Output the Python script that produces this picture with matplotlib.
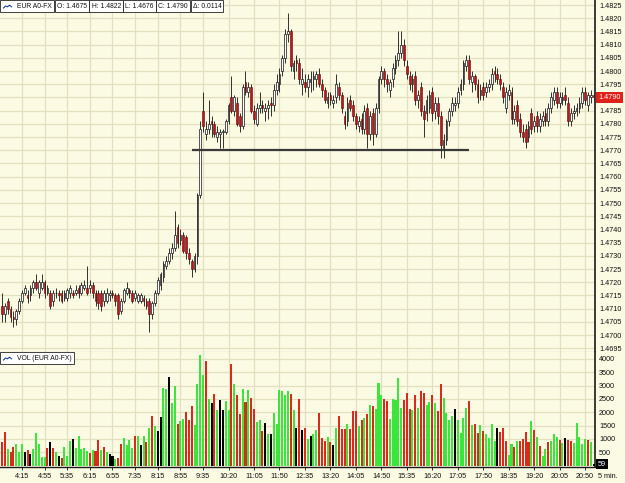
import matplotlib
matplotlib.use('Agg')
import matplotlib.pyplot as plt
from matplotlib.lines import Line2D
import numpy as np

plt.rcParams['font.family'] = ['Liberation Sans', 'DejaVu Sans']

# ---------------- data ----------------
symbol = 'EUR A0-FX'
start_time = '3:40'          # time of first 5-minute bar
bar_minutes = 5
price_base = 1.4             # prices below are in pips above 1.4000
opens = [711, 708, 713, 710, 707, 706, 709, 713, 716, 715, 715, 718, 720, 716, 718, 720, 716, 716, 713, 716,
         716, 716, 714, 714, 716, 716, 716, 718, 716, 718, 718, 718, 719, 716, 716, 716, 713, 713, 715, 716,
         715, 715, 709, 713, 716, 717, 716, 714, 713, 713, 714, 713, 713, 708, 712, 716, 719, 722, 726, 728,
         731, 733, 741, 736, 738, 737, 731, 728, 725, 730, 753, 785, 776, 778, 781, 780, 775, 776, 777, 777,
         781, 790, 785, 788, 783, 779, 796, 792, 794, 785, 780, 786, 787, 785, 786, 788, 787, 793, 795, 800,
         805, 814, 815, 800, 804, 803, 795, 796, 794, 796, 797, 797, 799, 795, 793, 788, 791, 788, 790, 794,
         791, 783, 781, 789, 787, 783, 779, 782, 778, 786, 776, 784, 776, 786, 797, 800, 797, 793, 797, 801,
         804, 807, 810, 802, 798, 795, 798, 789, 794, 785, 784, 786, 792, 785, 788, 783, 771, 774, 781, 785,
         787, 788, 793, 795, 802, 804, 796, 798, 795, 791, 794, 792, 794, 795, 800, 799, 797, 794, 786, 791,
         792, 782, 787, 782, 777, 778, 775, 784, 779, 783, 779, 781, 784, 781, 786, 789, 792, 788, 789, 791,
         788, 781, 784, 785, 786, 788, 792, 787, 790, 791]
highs = [716, 712, 714, 711, 709, 710, 714, 717, 719, 717, 719, 721, 723, 721, 723, 721, 719, 717, 717, 718,
         717, 717, 717, 718, 719, 717, 719, 719, 720, 721, 726, 721, 720, 717, 717, 717, 717, 718, 717, 717,
         716, 716, 714, 718, 720, 718, 717, 717, 716, 716, 715, 714, 714, 713, 717, 722, 724, 728, 730, 733,
         735, 747, 742, 740, 739, 738, 733, 729, 731, 754, 781, 792, 781, 789, 783, 781, 779, 778, 778, 782,
         788, 798, 791, 790, 784, 795, 800, 796, 795, 787, 788, 792, 789, 788, 789, 790, 795, 799, 801, 806,
         816, 822, 816, 804, 806, 805, 801, 799, 799, 800, 800, 800, 801, 797, 794, 792, 792, 791, 799, 796,
         792, 785, 790, 791, 789, 784, 783, 784, 787, 788, 785, 786, 788, 798, 802, 801, 799, 797, 803, 806,
         815, 815, 812, 804, 800, 799, 800, 793, 796, 787, 791, 793, 794, 790, 790, 785, 776, 782, 786, 790,
         790, 794, 797, 804, 806, 806, 800, 799, 797, 795, 796, 796, 797, 801, 802, 801, 799, 796, 794, 795,
         794, 787, 789, 784, 780, 780, 781, 786, 783, 785, 784, 785, 786, 788, 792, 794, 794, 792, 792, 794,
         790, 786, 787, 788, 790, 794, 794, 792, 793, 792]
lows = [705, 705, 708, 705, 703, 704, 708, 712, 715, 712, 713, 716, 717, 714, 717, 714, 715, 710, 711, 714,
        713, 712, 713, 713, 714, 714, 715, 714, 715, 717, 715, 716, 714, 711, 710, 709, 711, 712, 713, 714,
        711, 706, 708, 712, 715, 714, 712, 713, 712, 712, 711, 710, 701, 706, 711, 715, 717, 720, 725, 727,
        729, 732, 733, 734, 731, 729, 727, 722, 724, 727, 752, 777, 774, 776, 775, 775, 773, 771, 771, 776,
        780, 784, 783, 779, 777, 778, 791, 790, 784, 780, 779, 784, 784, 781, 782, 783, 785, 791, 792, 798,
        803, 811, 800, 797, 800, 795, 791, 792, 790, 792, 793, 794, 794, 790, 788, 786, 787, 786, 788, 789,
        784, 778, 779, 785, 781, 778, 777, 776, 776, 771, 774, 772, 775, 784, 795, 794, 792, 790, 794, 799,
        802, 805, 802, 797, 793, 792, 787, 786, 783, 775, 781, 784, 781, 782, 780, 767, 767, 772, 779, 783,
        785, 786, 791, 793, 800, 795, 792, 793, 788, 789, 789, 790, 792, 793, 796, 795, 793, 788, 784, 789,
        780, 780, 779, 775, 773, 771, 773, 776, 777, 777, 777, 779, 779, 779, 784, 787, 786, 786, 787, 787,
        779, 779, 782, 783, 784, 786, 787, 785, 788, 789]
closes = [708, 711, 710, 707, 706, 709, 713, 716, 718, 714, 718, 720, 718, 720, 720, 716, 718, 711, 716, 716,
          715, 713, 716, 717, 718, 715, 717, 716, 719, 719, 716, 719, 716, 713, 712, 711, 716, 716, 716, 715,
          713, 708, 713, 717, 718, 716, 713, 716, 715, 715, 713, 711, 708, 712, 716, 721, 723, 727, 728, 731,
          733, 738, 735, 738, 732, 731, 729, 725, 730, 753, 778, 779, 778, 780, 780, 776, 777, 777, 777, 781,
          787, 785, 790, 780, 779, 794, 792, 794, 785, 782, 786, 787, 786, 786, 787, 787, 793, 796, 799, 805,
          814, 815, 802, 803, 803, 797, 797, 794, 797, 797, 798, 799, 795, 793, 789, 790, 789, 789, 795, 791,
          786, 780, 788, 786, 783, 780, 781, 778, 785, 776, 783, 776, 786, 797, 800, 797, 795, 796, 801, 804,
          807, 810, 804, 799, 795, 797, 789, 791, 785, 782, 789, 791, 784, 788, 783, 772, 774, 781, 785, 788,
          788, 792, 795, 803, 804, 797, 798, 795, 790, 793, 791, 794, 795, 799, 799, 797, 795, 790, 792, 793,
          782, 785, 781, 777, 775, 773, 779, 778, 781, 779, 782, 783, 781, 786, 790, 792, 788, 790, 790, 789,
          781, 784, 785, 786, 788, 792, 789, 791, 791, 790]
volumes = [880, 1260, 630, 500, 710, 800, 500, 800, 525, 590, 440, 630, 1220, 800, 340, 340, 660, 880, 680, 525,
           370, 280, 710, 370, 940, 1000, 680, 1130, 630, 660, 565, 460, 590, 565, 970, 590, 710, 500, 440, 370,
           245, 280, 800, 1030, 780, 970, 680, 1100, 1130, 780, 1130, 880, 1420, 1880, 1470, 1290, 1820, 2930, 2870, 3330,
           2360, 3000, 1570, 1670, 1760, 2010, 1720, 2220, 1540, 3080, 4150, 3390, 3930, 2510, 2360, 2700, 2100, 2450, 2070, 2410,
           2070, 3830, 3080, 2640, 1920, 2890, 2390, 2830, 2540, 2140, 1640, 1700, 1290, 1590, 1190, 1190, 1970, 1570, 2830, 2790,
           2660, 2790, 2680, 2100, 1420, 2510, 1350, 1420, 1000, 1130, 1190, 1350, 1970, 1040, 940, 1060, 880, 790, 1420, 1860,
           1380, 1380, 1550, 1380, 2040, 2060, 1480, 1730, 1800, 1920, 2290, 2230, 2140, 3100, 2640, 2490, 2430, 1760, 2490, 2450,
           3300, 2160, 2450, 2740, 2140, 2070, 2640, 2170, 2790, 2740, 2290, 2390, 2640, 2360, 2040, 3050, 2550, 1970, 1730, 1850,
           2140, 1710, 1210, 1800, 2170, 2430, 1540, 1570, 1210, 1510, 1290, 1190, 1040, 1570, 940, 1420, 1260, 1420, 940, 410,
           820, 690, 940, 940, 1000, 1280, 880, 1660, 1350, 1090, 720, 380, 630, 880, 940, 1190, 1090, 970, 840, 1040,
           970, 920, 840, 1590, 1090, 810, 1000, 970, 880, 59]
# volume direction: g = up, r = down, k = unchanged
vol_dir = ("rrgrrgggkrkgggggrkrgkrgggkgggggrgrrgrgkkgrrggggrgkgrgrgkkggkggrggrrrggg"
           "grgkrgkkggrgrrgrgrrggrkgkggggggrgkrkrgkggrrrgrkgrrrgrrrgrgrgrgggrrggggg"
           "rrrgrgrrggrgrrggggkggggrgrrgrggggkrrrggrgrrrrgrgrggrgggrgkrrgggggrgkr")
tick_labels = ['4:15', '4:55', '5:35', '6:15', '6:55', '7:35', '8:15', '8:55', '9:35', '10:20', '11:05',
               '11:50', '12:35', '13:20', '14:05', '14:50', '15:35', '16:20', '17:05', '17:50', '18:35',
               '19:20', '20:05', '20:50']
price_ticks = [1.4695, 1.4700, 1.4705, 1.4710, 1.4715, 1.4720, 1.4725, 1.4730, 1.4735, 1.4740, 1.4745,
               1.4750, 1.4755, 1.4760, 1.4765, 1.4770, 1.4775, 1.4780, 1.4785, 1.4790, 1.4795, 1.4800,
               1.4805, 1.4810, 1.4815, 1.4820, 1.4825]
volume_ticks = [500, 1000, 1500, 2000, 2500, 3000, 3500, 4000]
support_level = 1.4770
support_from, support_to = '9:15', '17:25'
header_fields = [('O', '1.4675'), ('H', '1.4822'), ('L', '1.4676'), ('C', '1.4790'), ('Δ', '0.0114')]
interval_label = '5 min.'

# ---------------- helpers ----------------
def to_min(t):
    h, m = t.split(':')
    return int(h) * 60 + int(m)

def idx_of(t):
    return (to_min(t) - to_min(start_time)) / bar_minutes

O = price_base + np.array(opens) / 10000.0
H = price_base + np.array(highs) / 10000.0
L = price_base + np.array(lows) / 10000.0
C = price_base + np.array(closes) / 10000.0
V = np.array(volumes)
n = len(C)
x = np.arange(n)

BG = '#FBFAE3'
GRID = '#E3DFBF'
UP_FACE = 'white'
DOWN_FACE = '#C0141A'
VCOL = {'g': '#3BE53B', 'r': '#DA2A1E', 'k': '#000000'}
FS = 5.2

W, Hpx = 625, 483
fig = plt.figure(figsize=(W / 100, Hpx / 100), dpi=100, facecolor=BG)

ax_w = 595 / W
ax = fig.add_axes([0, 1 - 352 / Hpx, ax_w, 352 / Hpx], facecolor=BG)
axv = fig.add_axes([0, 1 - 467 / Hpx, ax_w, 115 / Hpx], facecolor=BG, sharex=ax)

PY0, PY1 = 1.46936, 1.48269
VY0, VY1 = -50, 4262
xlim = (-0.75, n - 0.5)
tick_pos = [idx_of(t) for t in tick_labels]

# ---- price panel ----
ax.set_xlim(*xlim)
ax.set_ylim(PY0, PY1)
ax.set_yticks(price_ticks)
ax.set_yticklabels([f'{p:.4f}' for p in price_ticks])
ax.set_xticks(tick_pos)
ax.grid(True, color=GRID, lw=0.9, zorder=0)
ax.set_axisbelow(True)

ax.vlines(x, L, H, color='#111111', lw=0.6, zorder=2)
up = C >= O
body_bot = np.minimum(O, C)
body_h = np.maximum(np.abs(C - O), 0.000012)
ax.bar(x[up], body_h[up], bottom=body_bot[up], width=0.62, color=UP_FACE,
       edgecolor='#111111', lw=0.5, zorder=3)
ax.bar(x[~up], body_h[~up], bottom=body_bot[~up], width=0.62, color=DOWN_FACE,
       edgecolor='#5a0a0a', lw=0.4, zorder=3)

ax.hlines(support_level, idx_of(support_from), idx_of(support_to), color='#3a3a3a', lw=1.6, zorder=4)

# ---- volume panel ----
axv.set_ylim(VY0, VY1)
axv.bar(x, V, width=0.72, color=[VCOL[c] for c in vol_dir], lw=0, zorder=3)
axv.set_yticks(volume_ticks)
axv.set_yticklabels([str(v) for v in volume_ticks])
axv.set_xticks(tick_pos)
axv.set_xticklabels(tick_labels)
axv.grid(True, color=GRID, lw=0.9, zorder=0)
axv.set_axisbelow(True)

for a in (ax, axv):
    a.yaxis.tick_right()
    a.tick_params(axis='y', length=0, pad=3, labelsize=FS, colors='#111111')
    a.tick_params(axis='x', length=2, width=0.6, pad=2, labelsize=FS, colors='#111111')
    for s in ('left', 'top'):
        a.spines[s].set_visible(False)
    a.spines['right'].set_color('#2a2a2a')
    a.spines['right'].set_linewidth(1.3)
ax.tick_params(axis='x', labelbottom=False, length=0)
ax.spines['bottom'].set_color('#9a9a8a')
ax.spines['bottom'].set_linewidth(0.8)
axv.spines['bottom'].set_color('#1a1a1a')
axv.spines['bottom'].set_linewidth(1.0)

# last value markers
ax.text(1.005, (C[-1] - PY0) / (PY1 - PY0), f'{C[-1]:.4f}', transform=ax.transAxes,
        fontsize=FS, color='white', va='center', ha='left',
        bbox=dict(boxstyle='square,pad=0.3', fc='#E0201A', ec='none'), zorder=10, clip_on=False)
fig.text(598 / W, 1 - 464 / Hpx, f'{V[-1]}', fontsize=FS, color='white', va='center', ha='left',
         bbox=dict(boxstyle='square,pad=0.25', fc='black', ec='none'), zorder=10)
fig.text(598 / W, 1 - 476 / Hpx, interval_label, fontsize=FS, va='center', ha='left', color='#111111')

# header legend boxes, laid out one after another
renderer = fig.canvas.get_renderer()
HFS = 4.9

def box_row(x0, yp, texts):
    xp = x0
    for s in texts:
        t = fig.text(xp / W, 1 - yp / Hpx, s, fontsize=HFS, va='center', ha='left', color='#111111',
                     bbox=dict(boxstyle='square,pad=0.3', fc='white', ec='#222222', lw=0.6))
        fig.canvas.draw()
        bb = t.get_bbox_patch().get_window_extent(renderer)
        xp = bb.x1 + (xp - bb.x0) + 0.5

box_row(2.5, 6, ['        ' + symbol] + [f'{k}: {v}' for k, v in header_fields])
box_row(2.5, 358, ['        VOL (' + symbol + ')'])

def icon(xp, yp):
    xs_ = np.array([0, 2, 4, 6, 8]) + xp
    ys_ = np.array([2.5, 0, 1, -1, 1]) * 0.8 + yp
    fig.add_artist(Line2D(xs_ / W, 1 - ys_ / Hpx, color='#1a3c9a', lw=0.8, zorder=20))

icon(3.5, 6)
icon(3.5, 358)

fig.savefig('out.png', dpi=100, facecolor=BG)
